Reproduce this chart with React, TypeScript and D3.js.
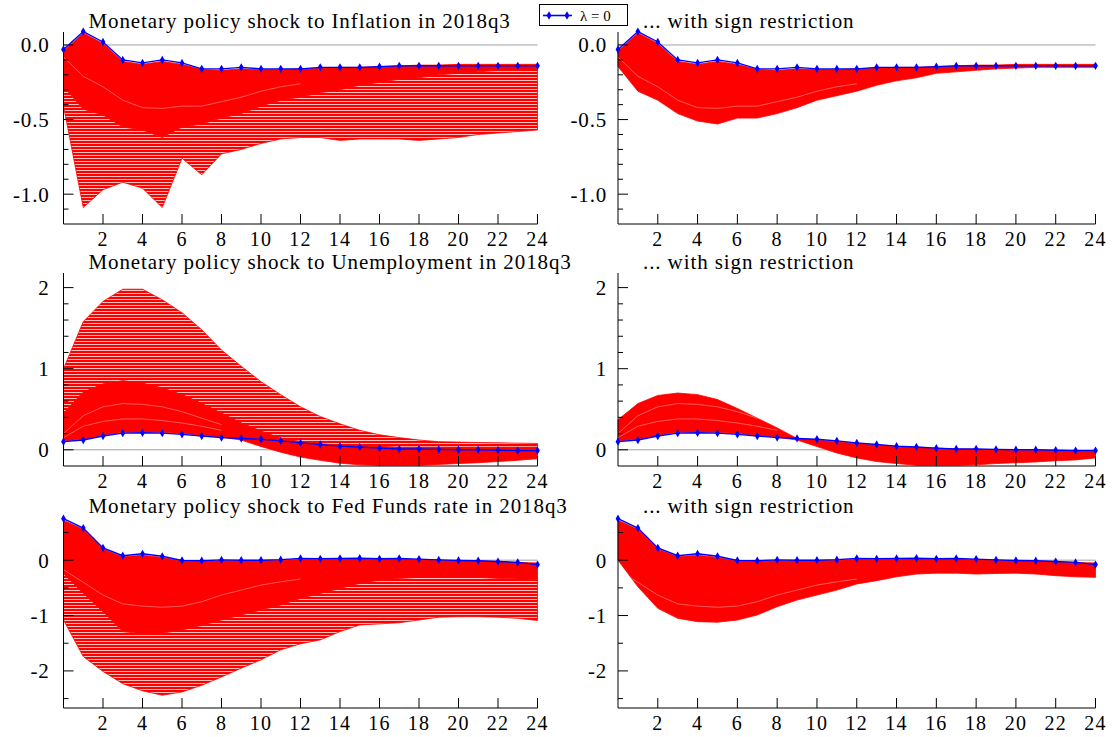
import * as d3 from "d3";

// horizon (quarters after the shock)
const horizons = [0, 1, 2, 3, 4, 5, 6, 7, 8, 9, 10, 11, 12, 13, 14, 15, 16, 17, 18, 19, 20, 21, 22, 23, 24];
const xTickValues = [2, 4, 6, 8, 10, 12, 14, 16, 18, 20, 22, 24];

// ---- Inflation ----
const lambda0Inflation = [-0.03, 0.09, 0.02, -0.10, -0.12, -0.10, -0.12, -0.16, -0.16, -0.15, -0.16, -0.16, -0.16, -0.15, -0.15, -0.15, -0.145, -0.14, -0.14, -0.14, -0.14, -0.14, -0.14, -0.14, -0.14];
const inflationTop = [-0.04, 0.08, 0.01, -0.11, -0.13, -0.11, -0.13, -0.165, -0.17, -0.16, -0.165, -0.165, -0.16, -0.155, -0.15, -0.15, -0.145, -0.14, -0.135, -0.135, -0.13, -0.13, -0.13, -0.13, -0.13];
const inflationDense = [-0.28, -0.43, -0.47, -0.55, -0.57, -0.62, -0.55, -0.53, -0.49, -0.46, -0.41, -0.37, -0.35, -0.32, -0.30, -0.27, -0.25, -0.23, -0.22, -0.20, -0.19, -0.18, -0.17, -0.17, -0.16];
const inflationLow = [-0.41, -1.09, -0.97, -0.92, -0.96, -1.09, -0.76, -0.87, -0.73, -0.70, -0.66, -0.63, -0.62, -0.62, -0.64, -0.63, -0.63, -0.63, -0.64, -0.63, -0.62, -0.60, -0.59, -0.58, -0.57];
const inflationSignLow = [-0.145, -0.31, -0.37, -0.46, -0.51, -0.53, -0.49, -0.49, -0.46, -0.42, -0.37, -0.34, -0.31, -0.27, -0.24, -0.22, -0.19, -0.18, -0.17, -0.16, -0.155, -0.15, -0.15, -0.15, -0.15];
const inflationGap = [-0.08, -0.21, -0.28, -0.37, -0.42, -0.425, -0.41, -0.41, -0.38, -0.35, -0.31, -0.28, -0.26];

// ---- Unemployment ----
const lambda0Unemp = [0.10, 0.12, 0.17, 0.205, 0.21, 0.205, 0.19, 0.17, 0.15, 0.14, 0.13, 0.11, 0.085, 0.065, 0.045, 0.035, 0.02, 0.01, 0.01, 0.005, 0, 0, -0.005, -0.01, -0.01];
const unempTop = [1.0, 1.58, 1.83, 1.98, 1.98, 1.85, 1.69, 1.48, 1.23, 1.03, 0.84, 0.68, 0.53, 0.41, 0.32, 0.24, 0.185, 0.15, 0.12, 0.10, 0.095, 0.09, 0.086, 0.082, 0.078];
const unempDense = [0.45, 0.71, 0.81, 0.85, 0.82, 0.76, 0.68, 0.57, 0.45, 0.33, 0.23, 0.14, 0.10, 0.07, 0.06, 0.05, 0.04, 0.03, 0.03, 0.03, 0.03, 0.03, 0.03, 0.03, 0.03];
const unempLow = [0.11, 0.13, 0.18, 0.215, 0.22, 0.215, 0.20, 0.18, 0.155, 0.12, 0.04, -0.03, -0.09, -0.13, -0.165, -0.185, -0.19, -0.19, -0.19, -0.18, -0.17, -0.16, -0.145, -0.13, -0.11];
const unempSignTop = [0.37, 0.57, 0.67, 0.70, 0.68, 0.62, 0.51, 0.39, 0.27, 0.14, 0.12, 0.10, 0.08, 0.06, 0.04, 0.03, 0.02, 0.01, 0.005, 0, -0.005, -0.005, -0.01, -0.015, -0.015];
const unempSignLow = [0.11, 0.13, 0.18, 0.215, 0.22, 0.215, 0.20, 0.18, 0.155, 0.12, 0.04, -0.04, -0.10, -0.145, -0.17, -0.19, -0.19, -0.19, -0.185, -0.17, -0.16, -0.15, -0.135, -0.125, -0.10];
const unempGapA = [0.2, 0.42, 0.53, 0.57, 0.56, 0.53, 0.47, 0.39, 0.31];
const unempGapB = [0.15, 0.29, 0.35, 0.38, 0.38, 0.36, 0.33, 0.29, 0.24];

// ---- Fed Funds rate ----
const lambda0Fed = [0.75, 0.58, 0.22, 0.08, 0.115, 0.07, -0.005, -0.01, 0.005, 0, 0, 0.01, 0.03, 0.025, 0.03, 0.035, 0.025, 0.03, 0.02, 0.005, -0.005, -0.01, -0.025, -0.04, -0.08];
const fedTop = [0.72, 0.56, 0.2, 0.06, 0.09, 0.05, -0.02, -0.02, -0.01, -0.01, -0.01, 0, 0.01, 0.01, 0.015, 0.02, 0.015, 0.015, 0.01, 0, -0.01, -0.015, -0.03, -0.04, -0.05];
const fedDense = [-0.24, -0.6, -0.93, -1.29, -1.33, -1.32, -1.26, -1.18, -1.08, -0.99, -0.90, -0.81, -0.69, -0.60, -0.51, -0.42, -0.36, -0.33, -0.31, -0.31, -0.31, -0.31, -0.33, -0.34, -0.36];
const fedLow = [-1.08, -1.74, -2.01, -2.23, -2.36, -2.44, -2.38, -2.26, -2.11, -1.95, -1.80, -1.62, -1.51, -1.44, -1.29, -1.17, -1.15, -1.13, -1.08, -1.03, -1.02, -1.02, -1.03, -1.05, -1.09];
const fedSignLow = [0.0, -0.48, -0.87, -1.05, -1.11, -1.12, -1.08, -0.99, -0.84, -0.72, -0.63, -0.54, -0.43, -0.37, -0.30, -0.25, -0.235, -0.235, -0.25, -0.24, -0.235, -0.25, -0.28, -0.30, -0.31];
const fedGap = [-0.17, -0.4, -0.63, -0.79, -0.83, -0.85, -0.83, -0.75, -0.63, -0.54, -0.45, -0.39, -0.34];

// axis ticks per row
const inflationMajor = [-1, -0.5, 0];
const inflationMinor = [-1.1, -0.9, -0.8, -0.7, -0.6, -0.4, -0.3, -0.2, -0.1];
const unempMajor = [0, 1, 2];
const unempMinor = [0.2, 0.4, 0.6, 0.8, 1.2, 1.4, 1.6, 1.8];
const fedMajor = [-2, -1, 0];
const fedMinor = [-2.5, -1.5, -0.5, 0.5];

const titles = [
  "Monetary policy shock to Inflation in 2018q3",
  "Monetary policy shock to Unemployment in 2018q3",
  "Monetary policy shock to Fed Funds rate in 2018q3",
];
const signTitle = "... with sign restriction";

const FONT = "'Liberation Serif', 'Times New Roman', serif";
const RED = "#ff0000";
const BLUE = "#0000ff";

const rows = [
  { top: 32, bottom: 224, domain: [-1.2, 0.087], major: inflationMajor, minor: inflationMinor, fmt: (v) => v.toFixed(1) },
  { top: 273, bottom: 466, domain: [-0.2, 2.18], major: unempMajor, minor: unempMinor, fmt: (v) => String(v) },
  { top: 517, bottom: 708, domain: [-2.67, 0.78], major: fedMajor, minor: fedMinor, fmt: (v) => String(v) },
];
const cols = [
  { left: 63.5, right: 537.5, labelGap: 14 },
  { left: 618, right: 1095.5, labelGap: 11 },
];

type Band = { upper: number[]; lower: number[]; kind: "solid" | "striped" };
type PanelSpec = { row: number; col: number; title: string; bands: Band[]; gaps: number[][]; lambda0: number[] };

const panels: PanelSpec[] = [
  {
    row: 0, col: 0, title: titles[0], lambda0: lambda0Inflation,
    bands: [
      { upper: inflationTop, lower: inflationDense, kind: "solid" },
      { upper: inflationDense, lower: inflationLow, kind: "striped" },
    ],
    gaps: [inflationGap],
  },
  {
    row: 0, col: 1, title: signTitle, lambda0: lambda0Inflation,
    bands: [{ upper: inflationTop, lower: inflationSignLow, kind: "solid" }],
    gaps: [inflationGap],
  },
  {
    row: 1, col: 0, title: titles[1], lambda0: lambda0Unemp,
    bands: [
      { upper: unempTop, lower: unempDense, kind: "striped" },
      { upper: unempDense, lower: unempLow, kind: "solid" },
    ],
    gaps: [unempGapA, unempGapB],
  },
  {
    row: 1, col: 1, title: signTitle, lambda0: lambda0Unemp,
    bands: [{ upper: unempSignTop, lower: unempSignLow, kind: "solid" }],
    gaps: [unempGapA, unempGapB],
  },
  {
    row: 2, col: 0, title: titles[2], lambda0: lambda0Fed,
    bands: [
      { upper: fedTop, lower: fedDense, kind: "solid" },
      { upper: fedDense, lower: fedLow, kind: "striped" },
    ],
    gaps: [fedGap],
  },
  {
    row: 2, col: 1, title: signTitle, lambda0: lambda0Fed,
    bands: [{ upper: fedTop, lower: fedSignLow, kind: "solid" }],
    gaps: [fedGap],
  },
];

const diamond = d3.symbol().type(d3.symbolDiamond).size(20)();

function Panel({ spec, idx }: { spec: PanelSpec; idx: number }) {
  const r = rows[spec.row];
  const c = cols[spec.col];
  const x = d3.scaleLinear().domain([0, 24]).range([c.left, c.right]);
  const y = d3.scaleLinear().domain(r.domain).range([r.bottom, r.top]);

  const bandPath = (b: Band) =>
    d3
      .area<number>()
      .x((_, i) => x(horizons[i]))
      .y0((d) => y(d))
      .y1((_, i) => y(b.upper[i]))(b.lower) as string;
  const line = d3
    .line<number>()
    .x((_, i) => x(horizons[i]))
    .y((d) => y(d));

  const clipId = `clip-${idx}`;

  return (
    <g>
      <text x={c.left + 25} y={r.top - 4} fontFamily={FONT} fontSize={21} letterSpacing={0.9} fill="#000">
        {spec.title}
      </text>
      {/* zero line */}
      <line x1={c.left} x2={c.right} y1={y(0)} y2={y(0)} stroke="#a0a0a0" strokeWidth={1} />
      <clipPath id={clipId}>
        {spec.bands.map((b, i) => (
          <path key={i} d={bandPath(b)} />
        ))}
      </clipPath>
      {spec.bands.map((b, i) => (
        <path key={i} d={bandPath(b)} fill={b.kind === "solid" ? RED : "url(#stripes)"} stroke={RED} strokeWidth={0.8} />
      ))}
      <g clipPath={`url(#${clipId})`}>
        {spec.gaps.map((g, i) => (
          <path key={i} d={line(g) as string} fill="none" stroke="#fff" strokeWidth={0.7} strokeOpacity={0.5} />
        ))}
      </g>
      {/* axes */}
      <line x1={c.left} x2={c.left} y1={r.top} y2={r.bottom} stroke="#000" />
      <line x1={c.left} x2={c.right} y1={r.bottom} y2={r.bottom} stroke="#000" />
      {r.major.map((v) => (
        <g key={`M${v}`}>
          <line x1={c.left} x2={c.left + 10} y1={y(v)} y2={y(v)} stroke="#000" />
          <text x={c.left - c.labelGap} y={y(v)} dy="0.35em" textAnchor="end" fontFamily={FONT} fontSize={21} letterSpacing={0.8}>
            {r.fmt(v)}
          </text>
        </g>
      ))}
      {r.minor.map((v) => (
        <line key={`m${v}`} x1={c.left} x2={c.left + 5} y1={y(v)} y2={y(v)} stroke="#000" />
      ))}
      {xTickValues.map((v) => (
        <g key={`x${v}`}>
          <line x1={x(v)} x2={x(v)} y1={r.bottom} y2={r.bottom - 10} stroke="#000" />
          <text x={x(v)} y={r.bottom + 22} textAnchor="middle" fontFamily={FONT} fontSize={20} letterSpacing={1.2}>
            {v}
          </text>
        </g>
      ))}
      {/* lambda = 0 */}
      <path d={line(spec.lambda0) as string} fill="none" stroke={BLUE} strokeWidth={1.4} />
      {spec.lambda0.map((d, i) => (
        <path key={i} d={diamond as string} transform={`translate(${x(horizons[i])},${y(d)})`} fill={BLUE} />
      ))}
    </g>
  );
}

export default function App() {
  return (
    <svg
      width={1113}
      height={737}
      viewBox="0 0 1113 737"
      style={{ position: "absolute", left: 0, top: 0, background: "#fff" }}
    >
      <defs>
        <pattern id="stripes" width={6} height={3} patternUnits="userSpaceOnUse">
          <rect width={6} height={3} fill={RED} />
          <rect y={2} width={6} height={1} fill="#fff" fillOpacity={0.75} />
        </pattern>
      </defs>
      <rect width={1113} height={737} fill="#fff" />
      {panels.map((p, i) => (
        <Panel key={i} spec={p} idx={i} />
      ))}
      {/* legend */}
      <g>
        <rect x={539.5} y={4.5} width={88} height={21} fill="#fff" stroke="#000" />
        <line x1={543} x2={572} y1={15.5} y2={15.5} stroke={BLUE} strokeWidth={1.6} />
        <path d={diamond as string} transform="translate(549,15.5)" fill={BLUE} />
        <path d={diamond as string} transform="translate(567,15.5)" fill={BLUE} />
        <text x={580} y={20.5} fontFamily={FONT} fontSize={15}>
          λ = 0
        </text>
      </g>
    </svg>
  );
}
